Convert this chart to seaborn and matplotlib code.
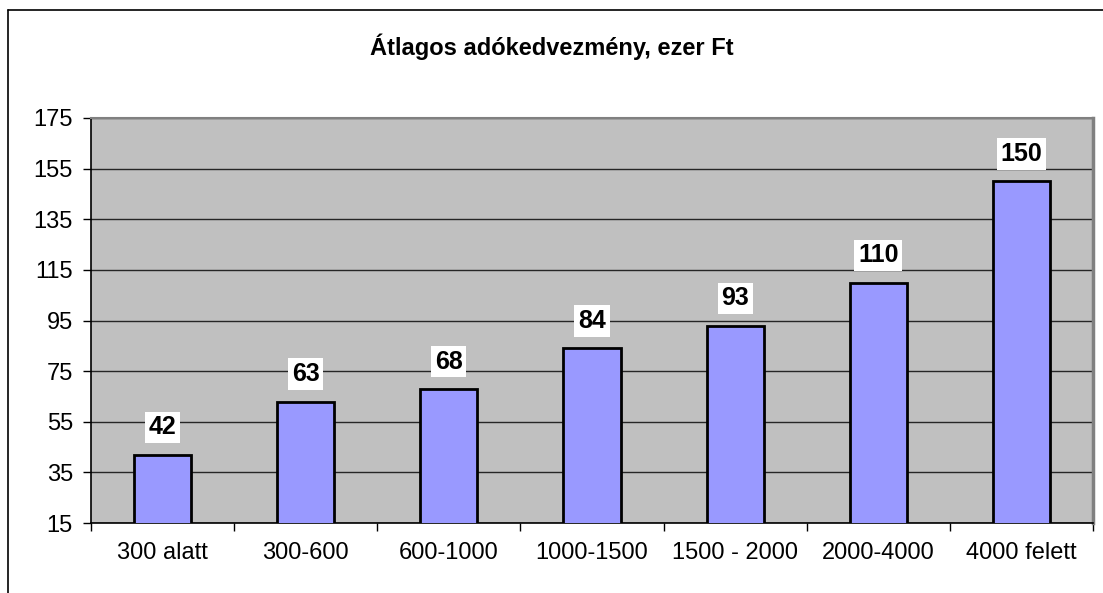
import numpy as np
import matplotlib.pyplot as plt
import matplotlib.lines as mlines
import seaborn as sns
import pandas as pd

# data
categories = ['300 alatt', '300-600', '600-1000', '1000-1500', '1500 - 2000', '2000-4000', '4000 felett']
values = [42, 63, 68, 84, 93, 110, 150]
y_ticks = [15, 35, 55, 75, 95, 115, 135, 155, 175]

df = pd.DataFrame({'kategoria': categories, 'ertek': values})

sns.set_style('white')
plt.rcParams['font.family'] = ['Liberation Sans', 'DejaVu Sans']
plt.rcParams['text.color'] = 'black'
plt.rcParams['xtick.color'] = 'black'
plt.rcParams['ytick.color'] = 'black'

fig = plt.figure(figsize=(11.03, 5.93), dpi=100)
ax = fig.add_axes([91 / 1103, 70 / 593, 1002 / 1103, 405 / 593])
ax.set_facecolor('#C0C0C0')

sns.barplot(data=df, x='kategoria', y='ertek', color='#9999FF', saturation=1,
            width=0.4, edgecolor='black', linewidth=2.0, ax=ax, zorder=3)

ax.set_ylim(15, 175)
ax.set_xlim(-0.5, len(categories) - 0.5)
ax.set_yticks(y_ticks)
ax.yaxis.grid(True, color='#262626', linewidth=1.0, zorder=0)
ax.set_axisbelow(True)

# ticks: y outward, x at category boundaries
ax.tick_params(axis='y', which='major', length=6, width=1, color='black',
               labelcolor='black', direction='out', left=True, labelsize=17, pad=7)
ax.tick_params(axis='x', which='major', length=0, labelcolor='black', labelsize=17, pad=14)
ax.set_xticks(np.arange(-0.5, len(categories)), minor=True)
ax.tick_params(axis='x', which='minor', length=6, width=1, color='black',
               direction='out', bottom=True)

ax.set_xlabel('')
ax.set_ylabel('')

for side in ['left', 'bottom']:
    ax.spines[side].set_color('black')
    ax.spines[side].set_linewidth(1.2)
ax.spines['top'].set_color('#808080')
ax.spines['top'].set_linewidth(1.5)
ax.spines['right'].set_color('#808080')
ax.spines['right'].set_linewidth(2.5)

# data labels
for i, v in enumerate(values):
    ax.annotate(str(v), xy=(i, v), xytext=(0, 11), textcoords='offset points',
                ha='center', va='bottom', fontsize=18, fontweight='bold', color='black',
                bbox=dict(boxstyle='square,pad=0.15', facecolor='white', edgecolor='none'),
                zorder=5)

fig.text(0.5, 1 - 47 / 593, 'Átlagos adókedvezmény, ezer Ft', ha='center', va='center',
         fontsize=17, fontweight='bold', color='black')

# outer chart border (cropped: only top and left visible)
fig.add_artist(mlines.Line2D([8 / 1103, 1.0], [1 - 10 / 593, 1 - 10 / 593],
                             transform=fig.transFigure, color='black', linewidth=1.2))
fig.add_artist(mlines.Line2D([8 / 1103, 8 / 1103], [0, 1 - 10 / 593],
                             transform=fig.transFigure, color='black', linewidth=1.2))

fig.savefig('out.png', dpi=100)
